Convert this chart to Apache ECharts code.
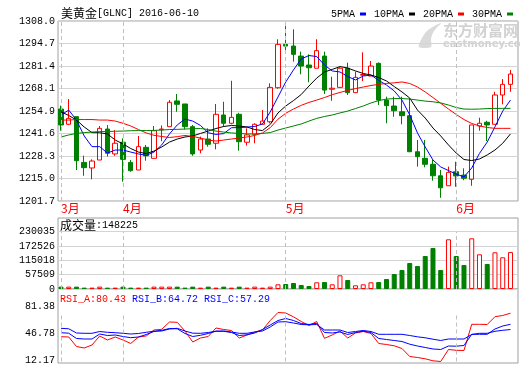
<!DOCTYPE html>
<html><head><meta charset="utf-8">
<script src="https://cdn.jsdelivr.net/npm/echarts@6/dist/echarts.min.js"></script>
<style>html,body{margin:0;padding:0;background:#fff}#c{width:520px;height:365px}</style>
</head><body><div id="c"></div>
<script>
const dates = ['03-21','03-22','03-23','03-24','03-28','03-29','03-30','03-31',
'04-01','04-04','04-05','04-06','04-07','04-08','04-11','04-12','04-13','04-14','04-15','04-18','04-19','04-20','04-21','04-22','04-25','04-26','04-27','04-28','04-29',
'05-02','05-03','05-04','05-05','05-06','05-09','05-10','05-11','05-12','05-13','05-16','05-17','05-18','05-19','05-20','05-23','05-24','05-25','05-26','05-27','05-30','05-31',
'06-01','06-02','06-03','06-06','06-07','06-08','06-09','06-10'];
const open  = [1256.0,1247.0,1251.5,1224.5,1221.2,1225.9,1244.2,1229.5,1236.4,1224.5,1220.0,1233.4,1226.9,1243.8,1245.6,1260.8,1259.0,1245.6,1231.8,1238.3,1235.8,1252.5,1247.6,1252.9,1236.4,1241.1,1247.0,1248.5,1268.6,1294.2,1293.2,1287.3,1282.0,1280.1,1287.3,1267.7,1268.8,1280.1,1265.7,1276.0,1275.5,1283.0,1261.3,1257.8,1254.4,1252.1,1230.8,1226.9,1223.4,1216.6,1210.7,1219.0,1217.0,1214.5,1246.0,1248.2,1247.0,1264.3,1270.6];
const close = [1246.6,1250.5,1225.5,1221.4,1225.3,1244.6,1229.9,1235.8,1226.3,1219.6,1233.8,1228.4,1243.2,1244.2,1260.0,1258.8,1245.6,1229.5,1238.3,1235.2,1252.9,1247.6,1251.1,1236.7,1240.7,1247.0,1248.9,1268.8,1294.2,1293.2,1288.3,1281.4,1280.4,1290.5,1267.2,1268.3,1280.1,1265.7,1274.7,1276.4,1281.4,1261.3,1258.0,1255.0,1252.1,1230.8,1227.9,1223.4,1216.6,1209.5,1218.6,1216.5,1215.1,1246.6,1247.6,1246.6,1264.3,1270.6,1276.7];
const low   = [1243.2,1246.5,1220.0,1216.6,1214.5,1225.9,1227.9,1228.4,1213.1,1219.0,1220.0,1225.5,1226.9,1237.0,1245.6,1254.4,1244.0,1228.4,1229.9,1233.8,1232.2,1245.6,1247.0,1231.4,1234.4,1235.8,1247.0,1247.6,1268.0,1289.5,1284.0,1276.5,1271.8,1280.1,1264.9,1260.9,1268.8,1264.3,1265.7,1272.5,1275.5,1258.4,1247.6,1251.5,1247.0,1230.6,1222.0,1221.6,1213.7,1203.6,1210.7,1210.1,1214.0,1210.7,1243.2,1237.1,1247.0,1258.8,1266.2];
const high  = [1258.0,1261.9,1251.7,1228.5,1226.3,1246.0,1246.6,1243.6,1238.7,1225.9,1240.1,1234.8,1246.0,1246.3,1261.3,1264.9,1259.0,1246.6,1239.7,1244.6,1259.0,1260.3,1272.7,1253.8,1244.6,1247.6,1255.4,1271.2,1297.2,1305.0,1303.1,1289.9,1288.3,1297.2,1289.9,1275.1,1280.7,1283.4,1278.1,1289.5,1284.4,1283.5,1263.3,1263.3,1263.3,1262.5,1237.7,1237.7,1225.9,1220.0,1222.0,1224.9,1221.0,1246.6,1250.9,1249.1,1266.2,1273.7,1279.1];
const ma5  = [1252.5,1255.4,1249.5,1240.1,1233.8,1233.8,1230.0,1231.8,1231.8,1230.6,1229.5,1228.6,1230.6,1234.8,1241.3,1246.6,1250.1,1248.9,1246.3,1242.0,1241.0,1241.5,1245.0,1245.0,1245.4,1245.7,1247.2,1254.3,1263.1,1272.0,1279.1,1285.6,1287.6,1287.0,1282.0,1278.5,1277.9,1275.2,1273.2,1275.5,1276.1,1272.9,1270.2,1266.7,1261.3,1252.5,1241.9,1233.6,1225.9,1221.8,1219.7,1217.6,1215.9,1221.2,1229.8,1236.5,1245.5,1254.8,1261.3];
const ma10 = [1254.4,1252.2,1249.5,1245.4,1242.1,1242.0,1241.3,1237.7,1235.4,1232.7,1230.6,1229.7,1231.2,1233.6,1236.5,1238.3,1239.5,1240.1,1241.6,1243.0,1244.5,1245.7,1246.3,1246.0,1245.4,1243.9,1243.3,1246.9,1253.7,1257.8,1261.0,1264.6,1269.6,1274.3,1277.9,1279.4,1281.1,1280.2,1278.5,1277.0,1276.1,1274.6,1272.6,1269.3,1266.1,1262.5,1255.4,1250.7,1244.8,1240.1,1234.8,1230.0,1226.2,1225.6,1226.5,1228.9,1231.8,1235.8,1241.3];
const ma20 = [1249.5,1249.5,1249.8,1249.8,1249.8,1249.5,1249.5,1248.9,1247.6,1246.0,1243.9,1241.9,1240.5,1239.8,1239.2,1239.7,1240.4,1239.8,1238.9,1237.7,1237.1,1237.7,1238.3,1238.9,1239.5,1240.4,1241.9,1245.0,1250.0,1253.5,1256.0,1258.2,1259.9,1261.3,1262.8,1264.5,1265.8,1267.0,1268.1,1269.0,1269.9,1270.6,1271.1,1271.5,1272.0,1271.1,1269.0,1266.1,1262.8,1259.4,1256.0,1252.8,1249.8,1247.5,1246.0,1245.1,1244.6,1244.6,1244.6];
const ma30 = [1239.5,1240.7,1241.6,1242.1,1242.4,1242.7,1242.7,1242.9,1243.0,1243.2,1243.3,1243.3,1243.4,1243.6,1243.9,1244.0,1244.2,1244.4,1244.5,1243.9,1243.0,1242.4,1241.9,1241.6,1241.3,1241.3,1241.6,1242.1,1243.6,1244.8,1246.0,1247.2,1248.9,1250.5,1251.6,1252.5,1253.7,1254.8,1256.3,1257.8,1259.6,1261.0,1261.9,1262.2,1262.2,1261.9,1261.3,1260.7,1260.3,1259.6,1258.4,1256.9,1256.0,1255.9,1256.0,1256.3,1256.4,1256.4,1256.4];
const volume = [9500,9500,9500,5500,5500,9500,5500,5500,9500,5500,5500,5500,9500,9500,9500,9500,5500,9500,5500,9500,5500,9500,5500,9500,5500,9500,5500,9500,18870,20070,24090,16060,12040,26900,28100,18870,55000,36130,14850,18870,26900,28100,40150,60220,76280,104380,92340,132480,164600,76280,199530,132480,96350,203540,139310,100370,147340,127260,148225];
const rsiA = [47.20,46.78,33.36,31.24,35.48,48.19,42.54,46.78,42.54,37.60,46.78,48.19,56.66,57.65,67.96,67.54,55.25,39.71,45.36,47.48,59.49,57.37,55.96,45.36,49.60,53.84,56.66,70.08,81.38,80.67,75.31,68.67,63.02,68.67,44.94,49.60,55.25,45.36,52.43,54.54,51.72,37.60,36.18,34.35,30.53,19.23,17.82,15.99,13.16,12.17,29.12,27.99,27.71,64.71,64.71,64.43,75.45,77.14,80.43];
const rsiB = [52.85,52.14,44.66,43.95,43.95,51.01,48.89,49.60,47.48,45.79,46.78,50.31,54.54,56.24,58.78,58.36,51.72,47.48,49.18,51.72,54.97,54.83,53.13,48.89,49.88,52.43,57.37,63.72,70.08,72.91,70.08,65.84,64.43,66.13,53.13,52.43,53.84,50.31,53.13,54.97,53.13,44.66,43.25,41.83,40.42,36.61,34.06,31.95,29.83,29.12,34.06,33.78,34.77,50.59,50.59,50.59,58.08,62.31,64.72];
const rsiC = [59.06,58.36,52.43,52.00,52.00,54.54,53.41,52.85,52.00,51.01,51.72,53.41,54.97,55.25,58.08,59.06,55.25,52.14,52.00,53.13,54.97,55.25,53.84,52.00,52.00,53.84,55.25,60.90,67.96,68.39,66.55,64.43,64.01,64.43,56.66,56.66,56.66,53.13,54.54,55.96,54.54,50.59,50.59,50.59,50.59,48.89,47.06,45.65,43.67,41.83,43.95,43.95,43.95,50.31,52.00,52.00,54.83,56.24,57.29];
const priceTicks = [1201.7,1215.0,1228.3,1241.6,1254.9,1268.1,1281.4,1294.7,1308.0];
const volTicks = [0,57509,115018,172526,230035];
const rsiTicks = [12.17,46.78,81.38];
const maNames = ['5PMA','10PMA','20PMA','30PMA'];

const mono = '"Liberation Mono","DejaVu Sans Mono",monospace';
const cjk = '"Noto Sans CJK SC",sans-serif';
const RED = '#ff0000', GREEN = '#008000', BLUE = '#0000ff', BLACK = '#000000';
const maColors = [BLUE, BLACK, RED, GREEN];
const FRAME = '#a0a0a0', GRIDC = '#d4d4d4', DASH = '#c0c0c0';
const monthStarts = dates.map((d,i)=> (i===0 || d.slice(0,2)!==dates[i-1].slice(0,2)) ? i : -1).filter(i=>i>=0);

const DL = 57.1, DW = 457.25;
function frame(top,h){return {left:58,top:top,width:460,height:h,show:true,borderColor:FRAME,borderWidth:1,backgroundColor:'transparent'};}
function plain(top,h){return {left:58,top:top,width:460,height:h,show:false};}
function data(top,h){return {left:DL,top:top,width:DW,height:h,show:false};}
const grid = [frame(21,180), data(21,180), frame(218,71), plain(231.7,57.3), data(231.7,57.3), frame(289,74), plain(306,55), data(312.5,49)];
function hx(g){return {gridIndex:g,type:'value',show:false,min:0,max:1};}
function cx(g,labels){return {gridIndex:g,type:'category',data:dates,boundaryGap:true,show:labels,
  axisLine:{show:false},axisTick:{show:false},splitLine:{show:false},
  axisLabel:{show:labels,interval:(i)=>monthStarts.indexOf(i)>=0,formatter:(v)=>parseInt(v.slice(0,2),10)+'月',
    color:RED,fontFamily:cjk,fontSize:12,align:'left',margin:1}};}
function hy(g,min,max){return {gridIndex:g,type:'value',show:false,min:min,max:max};}
function ly(g,min,max,ticks,fmt,split){return {gridIndex:g,type:'value',min:min,max:max,
  axisLine:{show:false},axisTick:{show:false,customValues:ticks},
  splitLine:{show:split,lineStyle:{color:GRIDC,width:1}},
  axisLabel:{customValues:ticks,formatter:fmt,fontFamily:mono,fontSize:10,color:'#000',margin:3}};}
const xAxis = [hx(0), cx(1,true), hx(2), hx(3), cx(4,false), hx(5), hx(6), cx(7,false)];
const yAxis = [ly(0,1201.7,1308.0,priceTicks,(v)=>v.toFixed(1),true), hy(1,1201.7,1308.0), hy(2,0,1),
  ly(3,0,230035,volTicks,(v)=>String(Math.round(v)),true), hy(4,0,230035), hy(5,0,1),
  ly(6,12.17,81.38,rsiTicks,(v)=>v.toFixed(2),false), hy(7,12.17,81.38)];

function monthLines(xi){return {type:'line',xAxisIndex:xi,yAxisIndex:xi,data:[],z:1,silent:true,
  markLine:{silent:true,symbol:['none','none'],label:{show:false},animation:false,
    lineStyle:{type:[4,3],color:DASH,width:1},
    data:monthStarts.map(i=>({xAxis:dates[i]}))}};}
function lineS(name,arr,color,xi){return {name:name,type:'line',xAxisIndex:xi,yAxisIndex:xi,data:arr,color:color,
  showSymbol:false,symbol:'none',z:4,lineStyle:{width:1,color:color},itemStyle:{color:color},silent:true};}

const up = close.map((c,i)=>c>=open[i]);
const last = volume.length-1;
const option = {
  animation:false,
  backgroundColor:'#fff',
  title:[
    {left:61,top:7,padding:0,text:'{c|美黄金}{a|[GLNC] 2016-'+dates[last]+'}',
      textStyle:{fontFamily:mono,fontSize:10,fontWeight:'normal',rich:{c:{fontFamily:cjk,fontSize:12,color:'#000'},a:{fontFamily:mono,fontSize:10,color:'#000'}}}},
    {left:60,top:219,padding:0,text:'{c|成交量}{a|:'+volume[last]+'}',
      textStyle:{fontFamily:mono,fontSize:10,fontWeight:'normal',rich:{c:{fontFamily:cjk,fontSize:12,color:'#000'},a:{fontFamily:mono,fontSize:10,color:'#000'}}}},
    {left:60,top:294,padding:0,text:'{r|RSI_A:'+rsiA[last].toFixed(2)+'} {b|RSI_B:'+rsiB[last].toFixed(2)+'} {b|RSI_C:'+rsiC[last].toFixed(2)+'}',
      textStyle:{fontFamily:mono,fontSize:10,fontWeight:'normal',rich:{r:{fontFamily:mono,fontSize:10,color:RED},b:{fontFamily:mono,fontSize:10,color:BLUE}}}}
  ],
  legend:{left:331,top:9,padding:0,itemGap:8,itemWidth:6,itemHeight:3,icon:'rect',align:'right',selectedMode:false,
    textStyle:{fontFamily:mono,fontSize:10,color:'#000'},
    data:maNames.map((n,k)=>({name:n,icon:'rect',itemStyle:{color:maColors[k],borderWidth:0,opacity:1}}))},
  graphic:[
    {type:'polygon',z:0,shape:{points:[[419,47],[422,38],[428,30],[441,23],[434,31],[431,39],[431,47]],smooth:0.3},style:{fill:'#dadada'}},
    {type:'text',left:443,top:23,z:0,style:{text:'东方财富网',font:'bold 15px "Noto Sans CJK SC"',fill:'#d2d2d2'}},
    {type:'text',left:443,top:39,z:0,style:{text:'eastmoney.com',font:'bold 10px "DejaVu Sans"',fill:'#d2d2d2'}}
  ],
  grid:grid, xAxis:xAxis, yAxis:yAxis,
  series:[
    monthLines(1),
    {type:'candlestick',xAxisIndex:1,yAxisIndex:1,z:2,barWidth:5,silent:true,
      data:dates.map((d,i)=>[open[i],close[i],low[i],high[i]]),
      itemStyle:{color:'transparent',color0:GREEN,borderColor:RED,borderColor0:GREEN,borderWidth:1}},
    lineS(maNames[0],ma5,maColors[0],1), lineS(maNames[1],ma10,maColors[1],1), lineS(maNames[2],ma20,maColors[2],1), lineS(maNames[3],ma30,maColors[3],1),
    monthLines(4),
    {type:'bar',xAxisIndex:4,yAxisIndex:4,z:2,barWidth:5,silent:true,
      data:volume.map((v,i)=>({value:v,itemStyle: up[i]?{color:'#ffffff',borderColor:RED,borderWidth:1}:{color:GREEN,borderColor:GREEN,borderWidth:1}}))},
    monthLines(7),
    lineS('RSI_A',rsiA,RED,7), lineS('RSI_B',rsiB,BLUE,7), lineS('RSI_C',rsiC,BLUE,7)
  ]
};
const chart = echarts.init(document.getElementById('c'),null,{renderer:'canvas'});
chart.setOption(option);
</script></body></html>
